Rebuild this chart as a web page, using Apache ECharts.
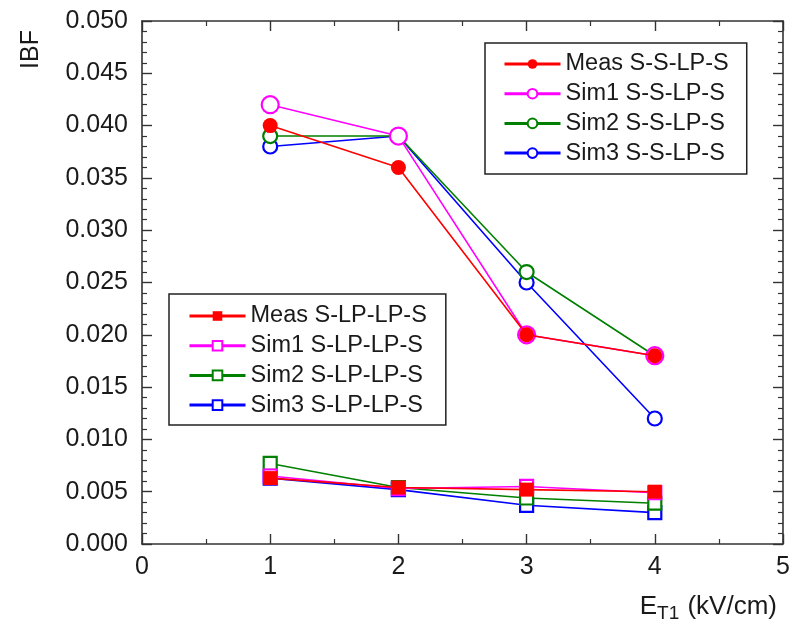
<!DOCTYPE html>
<html>
<head>
<meta charset="utf-8">
<script src="https://cdn.jsdelivr.net/npm/echarts@6/dist/echarts.min.js"></script>
<style>
  html, body { margin: 0; padding: 0; background: #fff; }
  #chart { width: 799px; height: 632px; }
</style>
</head>
<body>
<div id="chart"></div>
<script>
const fieldKV = [1, 2, 3, 4];

// S-S-LP-S configuration
const measSS = [0.0400, 0.0360, 0.0200, 0.0180];
const sim1SS = [0.0420, 0.0390, 0.0200, 0.0180];
const sim2SS = [0.0390, 0.0390, 0.0260, 0.0180];
const sim3SS = [0.0380, 0.0390, 0.0250, 0.0120];

// S-LP-LP-S configuration
const measLP = [0.0063, 0.0054, 0.0052, 0.0050];
const sim1LP = [0.0065, 0.0053, 0.0055, 0.0049];
const sim2LP = [0.0077, 0.0054, 0.0044, 0.0039];
const sim3LP = [0.0063, 0.0052, 0.0037, 0.0030];

const legendSS = ['Meas S-S-LP-S', 'Sim1 S-S-LP-S', 'Sim2 S-S-LP-S', 'Sim3 S-S-LP-S'];
const legendLP = ['Meas S-LP-LP-S', 'Sim1 S-LP-LP-S', 'Sim2 S-LP-LP-S', 'Sim3 S-LP-LP-S'];

const FONT = 'Liberation Sans, Arial, sans-serif';
const TXT = '#1a1a1a';

const pts = ys => fieldKV.map((x, i) => [x, ys[i]]);

function mk(name, ys, color, symbol, size, filled, z) {
  return {
    name: name,
    type: 'line',
    data: pts(ys),
    symbol: symbol,
    symbolSize: size,
    showSymbol: true,
    z: z,
    lineStyle: { color: color, width: 1.6 },
    itemStyle: {
      color: filled ? color : '#fff',
      borderColor: color,
      borderWidth: filled ? 0 : 2.2,
      opacity: 1
    },
    emphasis: { disabled: true },
    animation: false
  };
}

const axisLine = { show: true, onZero: false, lineStyle: { color: '#333', width: 1.6 } };
const tick = { show: true, inside: true, length: 10, lineStyle: { color: '#333', width: 1.4 } };
const minor = (n) => ({ show: true, splitNumber: n, length: 5, lineStyle: { color: '#333', width: 1.2 } });

const chart = echarts.init(document.getElementById('chart'));

const legendBase = {
  orient: 'vertical',
  itemWidth: 56,
  itemHeight: 12,
  itemGap: 3.7,
  borderColor: '#222',
  borderWidth: 1.5,
  backgroundColor: '#fff',
  borderRadius: 0,
  textStyle: { fontFamily: FONT, fontSize: 23.5, color: TXT, lineHeight: 26 },
  lineStyle: { width: 3 },
  selectedMode: false
};

chart.setOption({
  backgroundColor: '#fff',
  animation: false,
  grid: { left: 142, top: 21, right: 16, bottom: 88 },
  legend: [
    Object.assign({}, legendBase, { data: legendSS, left: 485, top: 43, padding: [8, 18, 8, 18] }),
    Object.assign({}, legendBase, { data: legendLP, left: 169, top: 294, padding: [9, 19, 7, 19] })
  ],
  xAxis: [
    {
      type: 'value', min: 0, max: 5, interval: 1, position: 'bottom',
      axisLine: axisLine, axisTick: tick, minorTick: minor(2),
      splitLine: { show: false },
      axisLabel: { fontFamily: FONT, fontSize: 25, color: TXT, margin: 11 }
    },
    {
      type: 'value', min: 0, max: 5, interval: 1, position: 'top',
      axisLine: axisLine, axisTick: tick, minorTick: minor(2),
      splitLine: { show: false }, axisLabel: { show: false }
    }
  ],
  yAxis: [
    {
      type: 'value', min: 0, max: 0.05, interval: 0.005, position: 'left',
      axisLine: axisLine, axisTick: tick, minorTick: minor(5),
      splitLine: { show: false },
      axisLabel: {
        fontFamily: FONT, fontSize: 25, color: TXT, margin: 14,
        formatter: v => v.toFixed(3)
      }
    },
    {
      type: 'value', min: 0, max: 0.05, interval: 0.005, position: 'right',
      axisLine: axisLine, axisTick: tick, minorTick: minor(5),
      splitLine: { show: false }, axisLabel: { show: false }
    }
  ],
  graphic: [
    {
      type: 'text', left: 19, top: 30, rotation: Math.PI / 2,
      style: { text: 'IBF', font: '25px ' + FONT, fill: TXT }
    },
    {
      type: 'text', right: 22, top: 594,
      style: {
        text: '{a|E}{s|T1}{a| (kV/cm)}',
        rich: {
          a: { fontFamily: FONT, fontSize: 26, fill: TXT, color: TXT },
          s: { fontFamily: FONT, fontSize: 19, fill: TXT, color: TXT, padding: [14, 1, 0, 0] }
        }
      }
    }
  ],
  series: [
    mk(legendSS[3], sim3SS, '#0000ff', 'circle', 14, false, 2),
    mk(legendSS[2], sim2SS, '#008000', 'circle', 14, false, 3),
    mk(legendSS[1], sim1SS, '#ff00ff', 'circle', 17, false, 4),
    mk(legendSS[0], measSS, '#ff0000', 'circle', 15, true, 5),
    mk(legendLP[3], sim3LP, '#0000ff', 'rect', 13, false, 2),
    mk(legendLP[2], sim2LP, '#008000', 'rect', 13, false, 3),
    mk(legendLP[1], sim1LP, '#ff00ff', 'rect', 13, false, 4),
    mk(legendLP[0], measLP, '#ff0000', 'rect', 14, true, 5)
  ]
});
</script>
</body>
</html>
